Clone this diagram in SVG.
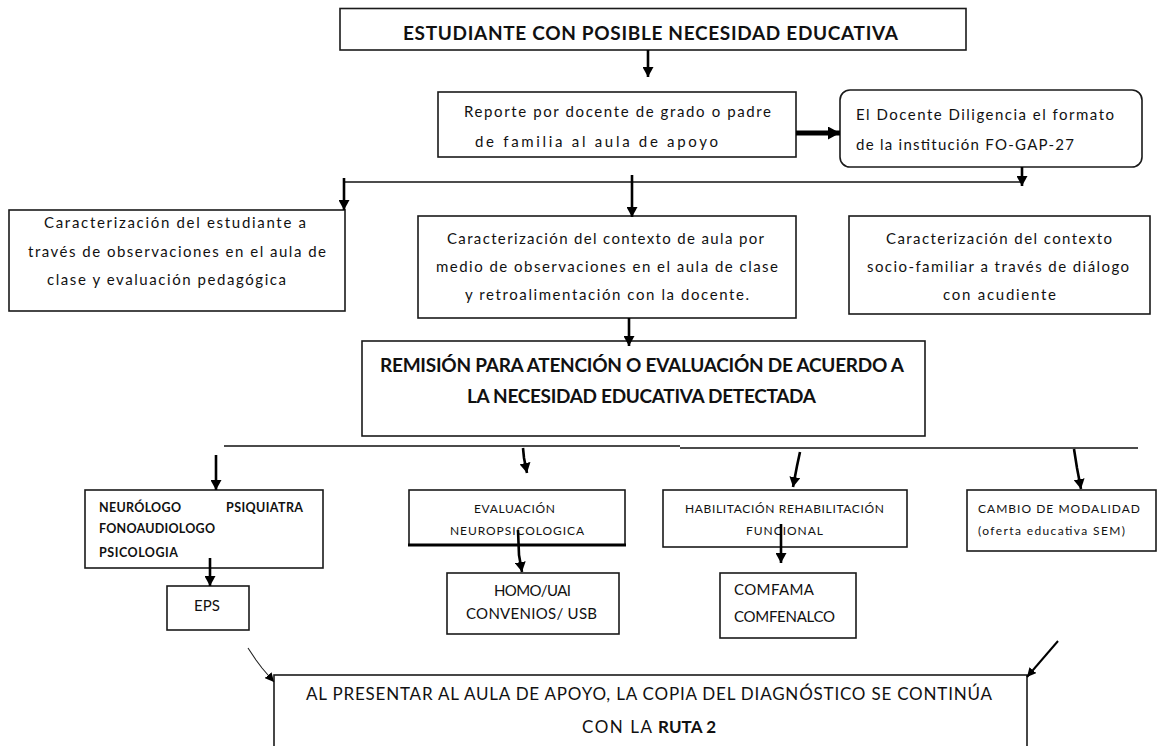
<svg xmlns="http://www.w3.org/2000/svg" width="1158" height="746" viewBox="0 0 1158 746">
<defs>
<style>
.box{fill:#fff;stroke:#1a1a1a;stroke-width:1.6}
.t{font-family:Lato,"Liberation Sans",sans-serif;font-size:15px;fill:#111}
.tb{font-family:Lato,"Liberation Sans",sans-serif;font-size:19px;font-weight:bold;fill:#111}
.tm{font-family:Lato,"Liberation Sans",sans-serif;font-size:17px;fill:#111}
.ts{font-family:Lato,"Liberation Sans",sans-serif;font-size:12px;fill:#111}
.tsb{font-family:Lato,"Liberation Sans",sans-serif;font-size:12.5px;font-weight:bold;fill:#111}
.ln{fill:none;stroke:#111;stroke-width:1.6}
.ar{fill:none;stroke:#000;stroke-width:2.6;marker-end:url(#ah)}
.arthin{fill:none;stroke:#222;stroke-width:1.1;marker-end:url(#ahs)}
</style>
<marker id="ah" markerUnits="userSpaceOnUse" viewBox="0 0 10 11" markerWidth="10" markerHeight="11" refX="10" refY="5.5" orient="auto">
<path d="M0,0 L10,5.5 L0,11 z" fill="#000"/>
</marker>
<marker id="ahs" markerUnits="userSpaceOnUse" viewBox="0 0 10 10" markerWidth="9" markerHeight="9" refX="10" refY="5" orient="auto">
<path d="M0,0 L10,5 L0,10 z" fill="#000"/>
</marker>
<marker id="ahb" markerUnits="userSpaceOnUse" viewBox="0 0 12 13" markerWidth="12" markerHeight="13" refX="12" refY="6.5" orient="auto">
<path d="M0,0 L12,6.5 L0,13 z" fill="#000"/>
</marker>
</defs>
<rect width="1158" height="746" fill="#fff"/>

<g id="n1">
<rect class="box" x="340" y="8.5" width="626" height="41.5"/>
<text class="tb" x="403" y="40" textLength="495">ESTUDIANTE CON POSIBLE NECESIDAD EDUCATIVA</text>
</g>

<g id="n2">
<rect class="box" x="438" y="92" width="358" height="65"/>
<text class="t" x="464" y="117" textLength="307">Reporte por docente de grado o padre</text>
<text class="t" x="475" y="147" textLength="243">de familia al aula de apoyo</text>
</g>

<g id="n3">
<rect class="box" x="840" y="90" width="302" height="77" rx="10"/>
<text class="t" x="856" y="120" textLength="258">El Docente Diligencia  el formato</text>
<text class="t" x="856" y="150" textLength="218">de la institución FO-GAP-27</text>
</g>

<g id="n4">
<rect class="box" x="9" y="210" width="336" height="101"/>
<text class="t" x="44" y="228" textLength="262">Caracterización del estudiante a</text>
<text class="t" x="28" y="257" textLength="298">través de observaciones en el aula de</text>
<text class="t" x="47" y="285" textLength="239">clase y evaluación pedagógica</text>
</g>

<g id="n5">
<rect class="box" x="418" y="216" width="378" height="102"/>
<text class="t" x="447" y="244" textLength="317">Caracterización del contexto de aula por</text>
<text class="t" x="436" y="272" textLength="342">medio de observaciones en el aula de clase</text>
<text class="t" x="465" y="300" textLength="284">y retroalimentación con la docente.</text>
</g>

<g id="n6">
<rect class="box" x="849" y="216" width="301" height="98"/>
<text class="t" x="886" y="244" textLength="226">Caracterización del contexto</text>
<text class="t" x="867" y="272" textLength="262">socio-familiar a través de diálogo</text>
<text class="t" x="943" y="300" textLength="113">con acudiente</text>
</g>

<g id="n7">
<rect class="box" x="362" y="341" width="563" height="95"/>
<text class="tb" x="380" y="372" textLength="524">REMISIÓN PARA ATENCIÓN O EVALUACIÓN DE ACUERDO A</text>
<text class="tb" x="467" y="403" textLength="349">LA NECESIDAD EDUCATIVA DETECTADA</text>
</g>

<g id="n8">
<rect class="box" x="85" y="490" width="238" height="78"/>
<text class="tsb" x="99" y="512" textLength="82">NEURÓLOGO</text>
<text class="tsb" x="226" y="512" textLength="77">PSIQUIATRA</text>
<text class="tsb" x="99" y="533" textLength="116">FONOAUDIOLOGO</text>
<text class="tsb" x="99" y="557" textLength="79">PSICOLOGIA</text>
</g>

<g id="n9">
<rect class="box" x="167" y="586" width="82" height="44"/>
<text class="t" x="194" y="611" textLength="26">EPS</text>
</g>

<g id="n10">
<rect class="box" x="409" y="490" width="216" height="55"/>
<line x1="408" y1="545" x2="626" y2="545" stroke="#000" stroke-width="3"/>
<text class="ts" x="474" y="513" textLength="81">EVALUACIÓN</text>
<text class="ts" x="450" y="535" textLength="134">NEUROPSICOLOGICA</text>
</g>

<g id="n11">
<rect class="box" x="447" y="573" width="172" height="61"/>
<text class="t" x="494" y="596" textLength="77">HOMO/UAI</text>
<text class="t" x="466" y="619" textLength="131">CONVENIOS/ USB</text>
</g>

<g id="n12">
<rect class="box" x="663" y="490" width="244" height="57"/>
<text class="ts" x="685" y="513" textLength="199">HABILITACIÓN REHABILITACIÓN</text>
<text class="ts" x="746" y="535" textLength="77">FUNCIONAL</text>
</g>

<g id="n13">
<rect class="box" x="720" y="573" width="136" height="65"/>
<text class="t" x="734" y="595" textLength="80">COMFAMA</text>
<text class="t" x="734" y="622" textLength="101">COMFENALCO</text>
</g>

<g id="n14">
<rect class="box" x="967" y="490" width="189" height="61"/>
<text class="ts" x="978" y="513" textLength="162">CAMBIO DE MODALIDAD</text>
<text class="ts" x="978" y="535" textLength="147">(oferta educativa SEM)</text>
</g>

<g id="n15">
<rect class="box" x="274" y="675" width="753" height="90"/>
<text class="tm" x="306" y="700" textLength="686">AL PRESENTAR AL AULA DE APOYO, LA COPIA DEL DIAGNÓSTICO SE CONTINÚA</text>
<text class="tm" x="582" y="733" textLength="70">CON LA</text>
<text class="tm" x="658" y="733" textLength="58" font-weight="bold">RUTA 2</text>
</g>

<g id="connectors">
<path class="ar" d="M648,50 L648,77"/>
<path d="M796,133 L840,133" fill="none" stroke="#000" stroke-width="5" marker-end="url(#ahb)"/>
<path class="ln" d="M344,182 L1022,182"/>
<path class="ar" d="M344,178 L344,210"/>
<path class="ar" d="M632,175 L632,217"/>
<path class="ar" d="M1022,167 L1022,186"/>
<path class="ar" d="M629,318 L629,346"/>
<path class="ln" d="M224,446 L680,446 M680,448 L1138,448"/>
<path class="ar" d="M216,455 L216,490"/>
<path class="ar" d="M523,448 L524,458 L527,473"/>
<path class="ar" d="M800,452 L797,466 L793,487"/>
<path class="ar" d="M1074,449 L1077,468 L1081,489"/>
<path class="ar" d="M210,558 L210,586"/>
<path class="ar" d="M518,530 L519,555 L522,572"/>
<path class="ar" d="M781,524 L781,563"/>
<path class="arthin" d="M248,648 L256,660 L262,668 L274,682"/>
<path d="M1058,641 L1027,677" fill="none" stroke="#000" stroke-width="2" marker-end="url(#ahs)"/>
</g>
</svg>
